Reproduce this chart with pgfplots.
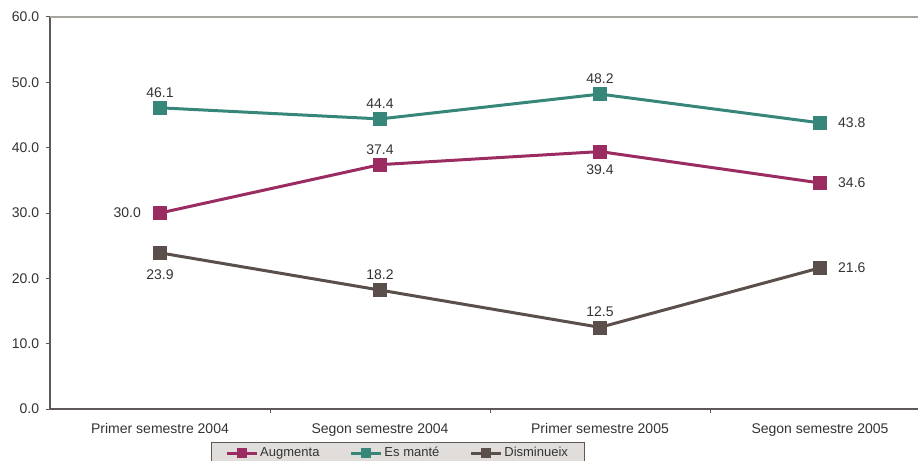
\documentclass[border=0pt]{standalone}
\usepackage{pgfplots}
\pgfplotsset{compat=1.18}
\usepackage{fontspec}
\setmainfont{Liberation Sans}
\definecolor{aug}{RGB}{155,44,98}
\definecolor{esm}{RGB}{54,134,122}
\definecolor{dis}{RGB}{90,79,75}
\definecolor{axc}{RGB}{94,88,86}
\definecolor{topc}{RGB}{168,164,160}
\definecolor{txt}{RGB}{51,51,51}
\definecolor{legbg}{RGB}{224,221,218}
\pgfplotsset{
  lbl/.style={draw=none, mark=none, forget plot,
    nodes near coords={\pgfmathprintnumber[fixed,fixed zerofill,precision=1,assume math mode=true]{\pgfplotspointmeta}},
    every node near coord/.append style={text=txt, font=\fontsize{14bp}{16bp}\selectfont, inner sep=0pt, #1}},
}
\begin{document}
\fontsize{14bp}{16bp}\selectfont
\begin{tikzpicture}
\begin{axis}[
  at={(0,0)}, anchor=south west,
  scale only axis, width=880bp, height=392bp,
  xmin=-0.5, xmax=3.5, ymin=0, ymax=60,
  axis x line*=bottom, axis y line*=left,
  axis line style={draw=axc, line width=1.3bp},
  ytick={0,10,...,60},
  /pgf/number format/fixed, /pgf/number format/fixed zerofill, /pgf/number format/precision=1,
  /pgf/number format/assume math mode=true,
  yticklabel style={text=txt, font=\fontsize{14bp}{16bp}\selectfont, xshift=-2bp},
  xtick={0.5,1.5,2.5}, xticklabels={},
  extra x ticks={0,1,2,3},
  extra x tick labels={Primer semestre 2004,Segon semestre 2004,Primer semestre 2005,Segon semestre 2005},
  extra x tick style={major tick length=0pt, tick label style={text=txt, font=\fontsize{14bp}{16bp}\selectfont, anchor=base, yshift=-24bp}},
  tick align=outside, major tick length=4bp,
  tick style={draw=axc, line width=1bp},
  clip=false,
  legend columns=3,
  legend style={at={(0.395,0)}, anchor=north, yshift=-33bp, fill=legbg, draw=axc, line width=0.8bp,
     font=\fontsize{13bp}{15bp}\selectfont, text=txt, inner ysep=3bp, inner xsep=14bp,
     /tikz/every even column/.append style={column sep=28bp}},
  legend image code/.code={\draw[#1, line width=3bp] (0bp,0bp) -- (30bp,0bp); \draw[#1, mark size=4.5bp, mark repeat=1] plot coordinates {(15bp,0bp)};},
]
\draw[topc, line width=1.2bp] (rel axis cs:0,1) -- (rel axis cs:1,1);
\addplot[aug, line width=3bp, mark=square*, mark size=6.5bp, mark options={line width=0.5bp}] coordinates {(0,30.0) (1,37.4) (2,39.4) (3,34.6)};
\addlegendentry{Augmenta}
\addplot[esm, line width=3bp, mark=square*, mark size=6.5bp, mark options={line width=0.5bp}] coordinates {(0,46.1) (1,44.4) (2,48.2) (3,43.8)};
\addlegendentry{Es manté}
\addplot[dis, line width=3bp, mark=square*, mark size=6.5bp, mark options={line width=0.5bp}] coordinates {(0,23.9) (1,18.2) (2,12.5) (3,21.6)};
\addlegendentry{Disminueix}
\addplot[lbl={anchor=south, yshift=10bp}]
  coordinates {(1,37.4) (0,46.1) (1,44.4) (2,48.2) (1,18.2) (2,12.5)};
\addplot[lbl={anchor=north, yshift=-13bp}]
  coordinates {(2,39.4)};
\addplot[lbl={anchor=north, yshift=-17bp}]
  coordinates {(0,23.9)};
\addplot[lbl={anchor=east, xshift=-19bp}]
  coordinates {(0,30.0)};
\addplot[lbl={anchor=west, xshift=18bp}]
  coordinates {(3,34.6) (3,43.8) (3,21.6)};
\end{axis}
\pgfresetboundingbox
\path[use as bounding box] (-50bp,-52bp) rectangle (868bp,409bp);
\end{tikzpicture}
\end{document}
